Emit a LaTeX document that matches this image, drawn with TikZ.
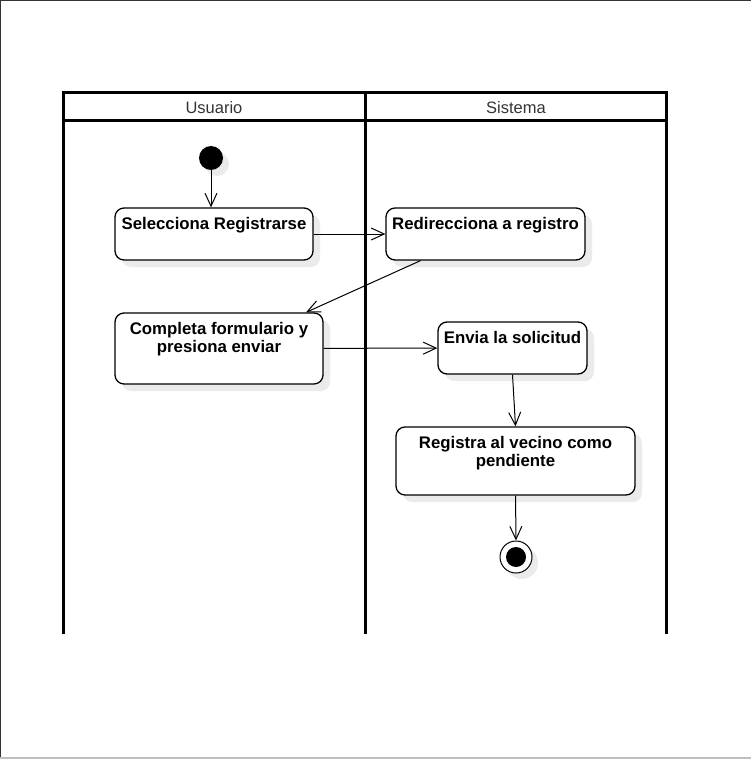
\documentclass[tikz,border=0pt]{standalone}
\usepackage{fontspec}
\setmainfont{Liberation Sans}
\usetikzlibrary{arrows.meta,shadows}

\tikzset{
  act/.style={draw, line width=1.3pt, rounded corners=9pt, fill=white,
    drop shadow={shadow xshift=7pt, shadow yshift=-7pt, fill=black!8, opacity=1}},
  actlbl/.style={anchor=north, yshift=-10pt, inner sep=0pt, align=center,
    font=\fontsize{16.8}{18}\selectfont\bfseries},
  flow/.style={line width=1pt, -{Straight Barb[length=13pt,width=12pt,line width=1pt]}},
  lane/.style={line width=3pt}
}

\begin{document}
\begin{tikzpicture}[x=1pt, y=-1pt]
                \useasboundingbox (0,0) rectangle (751,759);
                % Frame
                \draw[black!80, line width=1.5pt] (0,759) -- (0,0) -- (751,0);
                \draw[black!25, line width=1.5pt] (0,758) -- (751,758);
                
                % Swimlanes
                \draw[lane] (63,121) -- (666,121);
                \draw[lane] (61.5,93) -- (667.5,93);
                \foreach \x in {63, 365, 666}
                    \draw[lane] (\x,93) -- (\x,634);
                \node[font=\fontsize{16.5}{18}\selectfont, text=black!80] (usuario) at (214,108) {Usuario};
                \node[font=\fontsize{16.5}{18}\selectfont, text=black!80] (sistema) at (516,108) {Sistema};
                
                % Initial and final nodes
                \node[circle, fill=black, minimum size=24pt, inner sep=0pt,
                      drop shadow={shadow xshift=6pt, shadow yshift=-6pt, fill=black!8, opacity=1}] (init) at (211,158) {};
                \node[circle, draw, line width=1pt, fill=white, minimum size=32pt, inner sep=0pt,
                      drop shadow={shadow xshift=6pt, shadow yshift=-6pt, fill=black!8, opacity=1}] (fin) at (516,557) {};
                \fill (fin) circle (10pt);
                
                % Actions
                \node[act, minimum width=198pt, minimum height=52pt, label={[actlbl]north:Selecciona Registrarse}] (sel) at (214,234) {};
                \node[act, minimum width=199pt, minimum height=52pt, label={[actlbl]north:Redirecciona a registro}] (redir) at (485.5,234) {};
                \node[act, minimum width=208pt, minimum height=71pt, label={[actlbl]north:Completa formulario y\\presiona enviar}] (form) at (219,348.5) {};
                \node[act, minimum width=149pt, minimum height=52pt, label={[actlbl]north:Envia la solicitud}] (envia) at (512.5,348) {};
                \node[act, minimum width=239pt, minimum height=68pt, label={[actlbl]north:Registra al vecino como\\pendiente}] (reg) at (515.5,461) {};
                
                % Transitions
                \draw[flow] (init) -- (init |- sel.north);
                \draw[flow] (sel) -- (redir);
                \draw[flow] ([xshift=-65pt]redir.south) -- ([xshift=87pt]form.north);
                \draw[flow] (form) -- (envia);
                \draw[flow] (envia.south) -- (reg.north);
                \draw[flow] (reg.south) -- (fin.north);
            \end{tikzpicture}
\end{document}
